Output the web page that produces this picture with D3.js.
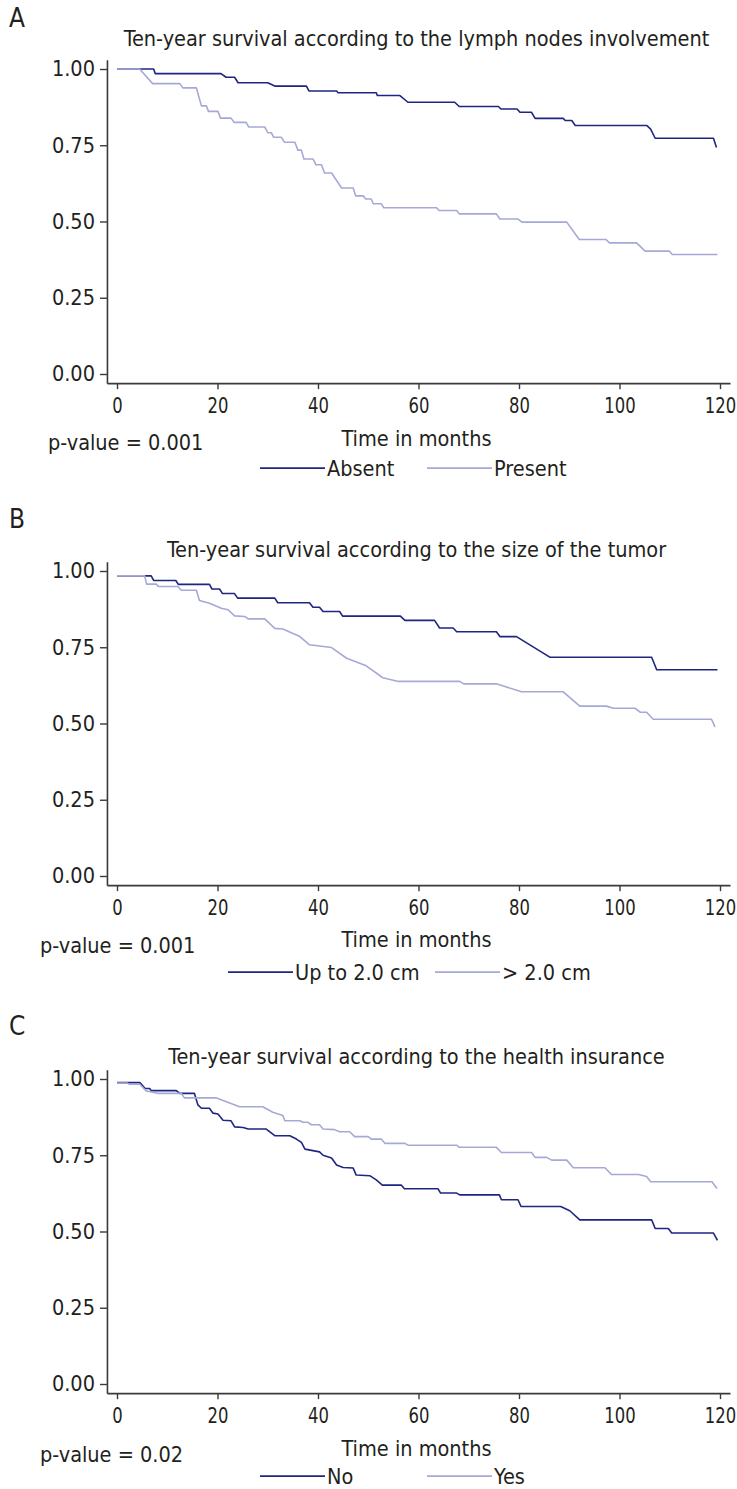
<!DOCTYPE html>
<html>
<head>
<meta charset="utf-8">
<script src="https://cdn.jsdelivr.net/npm/d3@7"></script>
<style>
  html, body { margin: 0; padding: 0; background: #ffffff; }
  svg text { font-family: "DejaVu Sans Condensed", "Liberation Sans Narrow", sans-serif; fill: #231f20; }
</style>
</head>
<body>
<svg id="chart" width="737" height="1489"></svg>
<script>
// ---------------- DATA ----------------
const xTicks = [0, 20, 40, 60, 80, 100, 120];
const yTicks = [0, 0.25, 0.5, 0.75, 1];
const panelLetters = ["A", "B", "C"];
const titles = [
  "Ten-year survival according to the lymph nodes involvement",
  "Ten-year survival according to the size of the tumor",
  "Ten-year survival according to the health insurance"
];
const xAxisLabel = "Time in months";
const pValues = ["p-value = 0.001", "p-value = 0.001", "p-value = 0.02"];
const legendLabels = [["Absent", "Present"], ["Up to 2.0 cm", "> 2.0 cm"], ["No", "Yes"]];

// Panel A – lymph nodes: Absent (dark) / Present (light)  (months, survival)
const aAbsentT  = [0, 7.3, 7.6, 20.7, 21.7, 23.4, 24.1, 30.0, 31.4, 37.7, 38.2, 43.7, 44.0, 51.6, 51.8, 56.3, 57.9, 67.2, 68.1, 75.9, 76.4, 79.6, 80.2, 82.5, 83.2, 88.8, 89.2, 90.5, 91.2, 105.4, 106.2, 107.1, 118.7, 119.3];
const aAbsentS  = [1, 1, 0.985, 0.985, 0.973, 0.973, 0.955, 0.955, 0.944, 0.944, 0.928, 0.928, 0.922, 0.922, 0.913, 0.913, 0.891, 0.891, 0.877, 0.877, 0.869, 0.869, 0.858, 0.858, 0.838, 0.838, 0.831, 0.831, 0.815, 0.815, 0.803, 0.773, 0.773, 0.743];
const aPresentT = [0, 4.5, 7.1, 12.5, 13.1, 15.8, 16.8, 17.8, 18.2, 20.1, 20.6, 22.7, 23.3, 25.7, 26.2, 29.4, 30.0, 30.7, 31.2, 32.7, 33.3, 35.4, 36.0, 36.7, 37.2, 39.0, 39.6, 40.7, 41.3, 42.7, 44.7, 47.0, 47.5, 49.0, 49.5, 50.6, 51.0, 52.6, 53.1, 63.6, 64.1, 67.6, 68.1, 75.5, 76.2, 79.8, 80.6, 89.5, 92.0, 97.3, 98.0, 103.4, 105.1, 109.9, 110.5, 119.5];
const aPresentS = [1, 1, 0.952, 0.952, 0.938, 0.938, 0.879, 0.879, 0.861, 0.861, 0.839, 0.839, 0.825, 0.825, 0.810, 0.810, 0.791, 0.791, 0.776, 0.776, 0.760, 0.760, 0.734, 0.734, 0.705, 0.705, 0.686, 0.686, 0.659, 0.659, 0.610, 0.610, 0.584, 0.584, 0.574, 0.574, 0.558, 0.558, 0.545, 0.545, 0.536, 0.536, 0.525, 0.525, 0.508, 0.508, 0.498, 0.498, 0.441, 0.441, 0.430, 0.430, 0.403, 0.403, 0.392, 0.392];

// Panel B – tumor size: Up to 2.0 cm (dark) / > 2.0 cm (light)
const bSmallT = [0, 6.8, 7.3, 11.7, 12.2, 18.4, 18.9, 20.4, 21.0, 23.4, 24.0, 31.4, 32.0, 38.3, 39.0, 40.3, 41.0, 44.3, 44.9, 56.4, 57.3, 63.2, 64.2, 66.9, 67.6, 75.5, 76.2, 79.5, 86.2, 106.4, 107.4, 119.5];
const bSmallS = [0.984, 0.984, 0.969, 0.969, 0.956, 0.956, 0.941, 0.941, 0.926, 0.926, 0.911, 0.911, 0.896, 0.896, 0.881, 0.881, 0.867, 0.867, 0.852, 0.852, 0.838, 0.838, 0.813, 0.813, 0.801, 0.801, 0.785, 0.785, 0.717, 0.717, 0.676, 0.676];
const bLargeT = [0, 5.5, 5.9, 7.8, 8.3, 12.1, 12.8, 15.8, 16.4, 18.4, 20.75, 22.1, 23.4, 25.4, 26.1, 29.4, 31.4, 33.0, 36.4, 38.3, 42.7, 45.7, 49.6, 52.9, 56.0, 68.2, 69.0, 75.5, 80.5, 88.8, 92.1, 97.4, 98.8, 103.1, 104.1, 105.4, 106.7, 118.3, 119.0];
const bLargeS = [0.984, 0.984, 0.957, 0.957, 0.949, 0.949, 0.937, 0.937, 0.903, 0.894, 0.878, 0.873, 0.853, 0.851, 0.843, 0.843, 0.812, 0.810, 0.785, 0.758, 0.749, 0.714, 0.689, 0.650, 0.638, 0.638, 0.630, 0.630, 0.604, 0.604, 0.557, 0.557, 0.550, 0.550, 0.537, 0.537, 0.514, 0.514, 0.489];

// Panel C – health insurance: No (dark) / Yes (light)
const cNoT  = [0, 4.6, 5.6, 6.5, 6.8, 11.8, 12.5, 15.4, 16.1, 16.8, 18.4, 19.1, 20.1, 21.1, 22.7, 23.4, 25.1, 26.1, 29.7, 31.4, 34.4, 35.7, 36.7, 37.4, 40.3, 41.0, 42.7, 43.7, 45.0, 47.0, 47.6, 50.3, 51.6, 52.8, 56.6, 57.2, 63.9, 64.4, 67.6, 68.2, 76.1, 76.5, 79.8, 80.4, 88.3, 90.1, 92.1, 106.4, 107.1, 109.7, 110.4, 118.7, 119.5];
const cNoS  = [0.988, 0.988, 0.969, 0.969, 0.962, 0.962, 0.953, 0.953, 0.915, 0.904, 0.904, 0.888, 0.885, 0.865, 0.863, 0.843, 0.841, 0.836, 0.836, 0.814, 0.814, 0.803, 0.792, 0.770, 0.761, 0.750, 0.741, 0.718, 0.710, 0.708, 0.685, 0.683, 0.669, 0.652, 0.652, 0.640, 0.640, 0.626, 0.626, 0.620, 0.620, 0.604, 0.604, 0.582, 0.582, 0.568, 0.538, 0.538, 0.510, 0.510, 0.495, 0.495, 0.471];
const cYesT = [0, 2.0, 2.4, 4.5, 5.8, 8.1, 12.8, 13.4, 19.8, 24.4, 29.0, 31.0, 33.0, 33.4, 36.4, 37.0, 38.0, 38.7, 40.3, 41.0, 43.3, 44.3, 46.3, 47.3, 50.0, 50.6, 52.6, 53.3, 57.3, 57.9, 67.6, 68.1, 75.5, 76.5, 82.5, 83.2, 85.5, 86.5, 89.5, 90.8, 97.1, 98.4, 103.8, 105.4, 106.2, 118.4, 119.4];
const cYesS = [0.987, 0.987, 0.983, 0.983, 0.961, 0.953, 0.953, 0.938, 0.938, 0.909, 0.909, 0.891, 0.880, 0.863, 0.863, 0.858, 0.858, 0.850, 0.850, 0.836, 0.834, 0.827, 0.827, 0.811, 0.811, 0.803, 0.803, 0.789, 0.789, 0.783, 0.783, 0.776, 0.776, 0.759, 0.759, 0.743, 0.743, 0.734, 0.734, 0.709, 0.709, 0.687, 0.687, 0.680, 0.663, 0.663, 0.641];

const seriesByPanel = [
  [[aAbsentT, aAbsentS], [aPresentT, aPresentS]],
  [[bSmallT, bSmallS], [bLargeT, bLargeS]],
  [[cNoT, cNoS], [cYesT, cYesS]]
];

// ---------------- LAYOUT / STYLE ----------------
const colors = ["#1e2681", "#a6a9d6"];
const panels = [
  { top: 69,   letterY: 18,   titleY: 38,   pX: 48, pDy: 59, xlDy: 55, legDy: 85, legend: [260, 427] },
  { top: 571,  letterY: 519,  titleY: 549,  pX: 40, pDy: 60, xlDy: 54, legDy: 87, legend: [228, 435] },
  { top: 1079, letterY: 1026, titleY: 1056, pX: 40, pDy: 61, xlDy: 55, legDy: 83, legend: [260, 427] }
];
const x0 = 117, pxPerMonth = 5.025, yHeight = 305;
const fontSize = 21.5;

const svg = d3.select("#chart");

panels.forEach((p, i) => {
  const g = svg.append("g");
  const x = d3.scaleLinear().domain([-2, 122]).range([x0 - 2 * pxPerMonth, x0 + 122 * pxPerMonth]);
  const y = d3.scaleLinear().domain([-0.03, 1.03]).range([p.top + 1.03 * yHeight, p.top - 0.03 * yHeight]);
  const axisY = y(-0.03);
  const axisX = x(-2);
  const cx = (x(0) + x(120)) / 2 - 2;

  // panel letter
  g.append("text").attr("x", 9).attr("y", p.letterY).attr("dominant-baseline", "central")
    .style("font-size", "26px").style("font-weight", "300")
    .text(panelLetters[i]);

  // title
  g.append("text").attr("x", cx).attr("y", p.titleY).attr("text-anchor", "middle")
    .attr("dominant-baseline", "central").style("font-size", fontSize + "px").text(titles[i]);

  // y axis
  const yAxis = g.append("g").attr("transform", `translate(${axisX},0)`)
    .call(d3.axisLeft(y).tickValues(yTicks).tickFormat(d3.format(".2f")).tickSize(7).tickSizeOuter(0).tickPadding(5));
  // x axis
  const xAxis = g.append("g").attr("transform", `translate(0,${axisY})`)
    .call(d3.axisBottom(x).tickValues(xTicks).tickFormat(d3.format("d")).tickSize(6).tickSizeOuter(0).tickPadding(9));
  [yAxis, xAxis].forEach(ax => {
    ax.selectAll("path.domain").attr("stroke", "#3a3a3a").attr("stroke-width", 1.6);
    ax.selectAll(".tick line").attr("stroke", "#3a3a3a").attr("stroke-width", 1.4);
    ax.selectAll(".tick text").style("font-size", fontSize + "px").attr("fill", "#231f20")
      .style("font-family", "\"DejaVu Sans Condensed\", sans-serif");
  });
  // narrower digits on the x axis, like the condensed original
  xAxis.selectAll(".tick text").attr("transform", "scale(0.85,1)");

  // curves
  const line = d3.line().x(d => x(d[0])).y(d => y(d[1])).curve(d3.curveLinear);
  seriesByPanel[i].forEach((s, k) => {
    const pts = s[0].map((t, j) => [t, s[1][j]]);
    g.append("path").datum(pts).attr("d", line).attr("fill", "none")
      .attr("stroke", colors[k]).attr("stroke-width", 1.6).attr("stroke-linejoin", "round");
  });

  // x axis label
  g.append("text").attr("x", cx).attr("y", axisY + p.xlDy).attr("text-anchor", "middle")
    .attr("dominant-baseline", "central").style("font-size", fontSize + "px").text(xAxisLabel);
  // p-value
  g.append("text").attr("x", p.pX).attr("y", axisY + p.pDy).attr("dominant-baseline", "central")
    .style("font-size", fontSize + "px").text(pValues[i]);

  // legend
  legendLabels[i].forEach((lab, k) => {
    const lx = p.legend[k];
    const ly = axisY + p.legDy;
    g.append("line").attr("x1", lx).attr("x2", lx + 65).attr("y1", ly).attr("y2", ly)
      .attr("stroke", colors[k]).attr("stroke-width", 1.6);
    g.append("text").attr("x", lx + 67).attr("y", ly).attr("dominant-baseline", "central")
      .style("font-size", fontSize + "px").text(lab);
  });
});
</script>
</body>
</html>
